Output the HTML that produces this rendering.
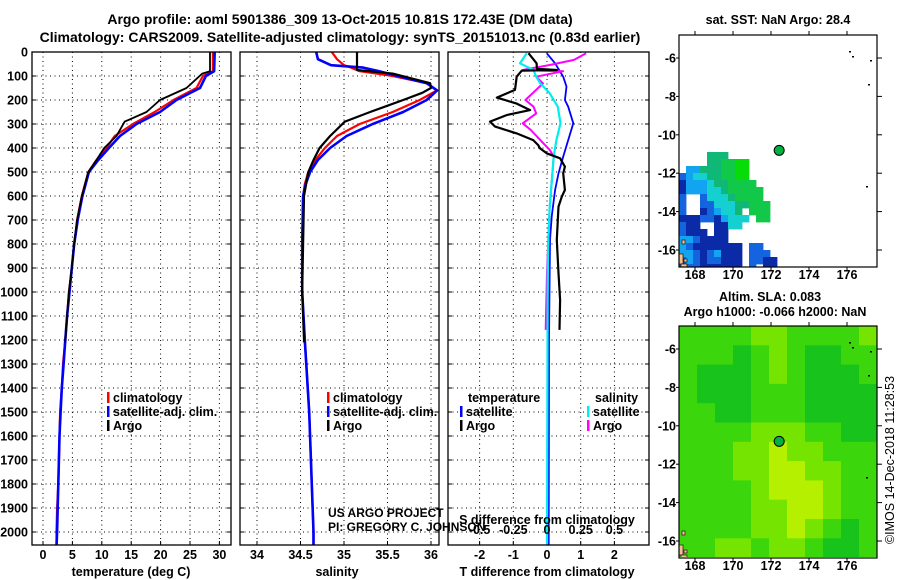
<!DOCTYPE html>
<html><head><meta charset="utf-8">
<style>
html,body{margin:0;padding:0;background:#fff;}
svg{display:block;font-family:"Liberation Sans",sans-serif;}
.b{font-weight:bold;font-size:12.5px;}
.t{font-weight:bold;font-size:14px;}
</style></head>
<body>
<svg id="fig" width="900" height="580" viewBox="0 0 900 580" xmlns="http://www.w3.org/2000/svg">
<defs>
<clipPath id="c1"><rect x="32" y="40" width="199" height="505"/></clipPath>
<clipPath id="c2"><rect x="240" y="40" width="199" height="505"/></clipPath>
<clipPath id="c3"><rect x="448" y="40" width="201" height="505"/></clipPath>
<clipPath id="cm1"><rect x="679" y="35" width="198" height="232"/></clipPath>
<clipPath id="cm2"><rect x="679" y="326" width="198" height="231"/></clipPath>
</defs>
<text class="t" x="340" y="24" text-anchor="middle">Argo profile: aoml 5901386_309 13-Oct-2015 10.81S 172.43E (DM data)</text>
<text class="t" x="340" y="42" text-anchor="middle">Climatology: CARS2009. Satellite-adjusted climatology: synTS_20151013.nc (0.83d earlier)</text>
<g id="grid"></g>
<g id="marks"></g>
<g id="frames"></g>
<g id="labels"></g>
<g id="maps"></g>
</svg>
<script>
// ---- profile data ----
const tempClimDepth=[0,80,100,150,200,250,300,350,400,450,500,600,700,800,900,1000,1100,1200,1300,1400,1500,1600,1700,1800,1900,2000,2060];
const tempClim=[28.9,28.9,27.2,26.1,22.2,19.0,15.3,12.2,10.8,9.1,7.7,6.6,5.8,5.3,4.9,4.4,4.1,3.8,3.4,3.2,2.9,2.8,2.7,2.6,2.4,2.3,2.3];
const tempSat=[29.2,29.1,27.7,26.7,22.7,19.9,15.9,13.1,11.2,9.4,7.8,6.7,5.9,5.3,4.9,4.5,4.1,3.8,3.5,3.2,3.0,2.8,2.7,2.6,2.5,2.4,2.3];
const argoDepth=[0,80,90,150,200,250,290,350,400,450,500,600,700,800,900,1000,1100,1200,1210];
const tempArgo=[28.4,28.4,27.1,24.4,19.9,17.6,13.9,12.5,10.4,9.1,7.7,6.6,5.8,5.3,4.9,4.4,4.1,3.8,3.8];
const salClimDepth=[0,30,55,65,80,100,130,160,200,250,300,350,400,450,500,550,600,800,1000,1200,1500,2000,2060];
const salClim=[34.86,34.92,35.0,35.08,35.18,35.56,35.95,36.07,35.87,35.56,35.18,34.92,34.78,34.67,34.59,34.55,34.53,34.52,34.52,34.55,34.6,34.65,34.65];
const salSat=[34.68,34.70,34.85,35.22,35.4,35.62,35.95,36.07,35.95,35.68,35.33,35.03,34.84,34.70,34.61,34.56,34.53,34.52,34.52,34.55,34.6,34.65,34.65];
const salArgoDepth=[0,75,90,130,150,170,200,250,290,350,400,450,500,600,800,1000,1200,1210];
const salArgo=[35.15,35.15,35.56,35.99,36.0,35.9,35.68,35.3,35.01,34.84,34.72,34.65,34.59,34.54,34.53,34.52,34.54,34.54];
const dTArgoDepth=[5,47,70,75,78,103,158,190,215,242,263,290,311,339,367,388,401,422,443,478,506,575,603,644,783,922,1033,1158];
const dTArgo=[-0.55,-0.31,-0.3,0.29,-0.75,-0.9,-0.95,-1.49,-0.9,-0.5,-1.2,-1.69,-1.54,-0.9,-0.41,-0.26,-0.21,-0.01,0.39,0.53,0.48,0.53,0.44,0.34,0.29,0.34,0.39,0.37];
const dTSatDepth=[5,47,103,144,200,228,297,367,436,506,575,686,783,1200,2060];
const dTSat=[-0.01,0.24,0.48,0.58,0.53,0.63,0.78,0.63,0.48,0.34,0.24,0.14,0.09,0.06,0.05];
const dSArgoDepth=[5,33,54,75,80,103,131,158,200,228,256,297,325,367,408,436,506,644,783,922,1158];
const dSArgo=[0.29,0.2,0.02,-0.18,0.12,-0.08,-0.03,-0.08,-0.16,-0.1,-0.08,-0.18,-0.12,-0.05,0.02,0.05,0.04,0.02,0.01,0.0,-0.01];
const dSSatDepth=[5,47,75,103,131,172,228,297,367,436,506,644,783,922,2060];
const dSSat=[-0.15,-0.2,-0.1,-0.08,-0.05,0.02,0.08,0.1,0.07,0.05,0.04,0.02,0.01,0.005,0.0];
const depthTicks=[0,100,200,300,400,500,600,700,800,900,1000,1100,1200,1300,1400,1500,1600,1700,1800,1900,2000];
const tempTicks=[0,5,10,15,20,25,30];
const salTicks=[34,34.5,35,35.5,36];
const salTickLabels=["34","34.5","35","35.5","36"];
const dTTicks=[-2,-1,0,1,2];
const dSTicks=[-0.5,-0.25,0,0.25,0.5];
const dSTickLabels=["-0.5","-0.25","0","0.25","0.5"];
// ---- map data ----
const lonTicks=[168,170,172,174,176];
const latTicks=[-6,-8,-10,-12,-14,-16];
const argoLon=172.43, argoLat=-10.81;
const sstGrid=[
[-1,-1,-1,-1,4,4,4,-1,-1,-1],
[-1,-1,-1,-1,4,4,5,5,6,6],
[-1,2,2,4,4,4,5,5,6,6],
[1,2,3,3,4,4,5,5,6,6],
[0,2,2,2,3,4,4,5,5,5,5],
[0,2,2,2,3,3,4,5,5,5,5,5],
[1,-1,-1,1,3,3,3,4,5,5,5,5],
[1,-1,-1,1,1,3,3,3,4,4,5,5,5],
[1,-1,-1,0,1,2,3,3,4,-1,5,5,5],
[0,0,0,1,1,0,2,3,3,3,-1,5,5],
[1,0,0,-1,-1,0,0,3,3],
[1,0,0,0,-1,0,0],
[2,2,1,0,0,0,0],
[2,1,0,0,0,0,0,0,0,-1,1,1],
[2,2,1,0,1,2,0,0,0,-1,1,1,1],
[1,2,1,0,1,1,0,0,0,-1,1,1,0,0],
[1,1,1,0,0,0,0,0,0,-1,1,-1,0,0]];
const sstColors=["#0a2aa8","#1464e0","#12a4f0","#14d0d0","#10b878","#12c848","#08dc08"];
const slaGrid=[
[1,1,1,1,2,2,1,1,1,1,2],
[1,1,1,0,1,2,1,0,0,1,1],
[1,0,0,0,1,2,1,0,0,0,1],
[1,0,0,0,1,1,1,0,0,0,0],
[1,1,0,0,1,1,1,0,0,0,0],
[1,1,1,1,2,2,2,1,1,0,0],
[1,1,1,2,2,3,2,2,1,1,1],
[1,1,1,2,2,3,3,2,2,1,1],
[1,1,1,1,2,3,3,3,2,1,1],
[1,1,1,1,2,2,3,3,2,1,1],
[1,1,1,1,2,2,3,2,1,0,1],
[1,1,2,2,1,2,2,1,0,0,1]];
const slaColors=["#18c41c","#3cd60c","#74e400","#b4f000"];

const NS="http://www.w3.org/2000/svg";
function el(tag,attrs,parent,txt){const e=document.createElementNS(NS,tag);for(const k in attrs)e.setAttribute(k,attrs[k]);if(txt!==undefined)e.textContent=txt;parent.appendChild(e);return e;}
const G=document.getElementById('grid'),M=document.getElementById('marks'),F=document.getElementById('frames'),L=document.getElementById('labels'),MP=document.getElementById('maps');
const yD=d=>52+0.24*d;
const xT=t=>43+5.88*t;
const xS=s=>257+87*(s-34);
const xDT=t=>547+33.7*t;
const xDS=s=>547+134.8*s;
const panels=[{x0:32,x1:231,clip:'c1',name:'temperature-panel'},{x0:240,x1:439,clip:'c2',name:'salinity-panel'},{x0:448,x1:649,clip:'c3',name:'difference-panel'}];
const TOP=52,BOT=545;
const dot={stroke:'#000','stroke-width':1,'stroke-dasharray':'1,3.5'};
panels.forEach((p,i)=>{
  depthTicks.forEach(d=>{const y=yD(d);
    const g=el('line',Object.assign({x1:p.x0,x2:p.x1,y1:y,y2:y},dot),G);
    
    
    el('line',{x1:p.x0,x2:p.x0+4,y1:y,y2:y,stroke:'#000'},G);
    el('line',{x1:p.x1-4,x2:p.x1,y1:y,y2:y,stroke:'#000'},G);
  });
  const r=el('rect',{x:p.x0,y:TOP,width:p.x1-p.x0,height:BOT-TOP,fill:'none',stroke:'#000','stroke-width':1.3},F);
  
  
});
depthTicks.forEach(d=>{const t=el('text',{x:28,y:yD(d)+4.5,'text-anchor':'end',class:'b'},L,String(d));
  
  });
function vgrid(vals,fx){vals.forEach(v=>{const x=fx(v);
  const g=el('line',Object.assign({x1:x,x2:x,y1:TOP,y2:BOT},dot),G);
  
  
  el('line',{x1:x,x2:x,y1:BOT-4,y2:BOT,stroke:'#000'},G);});}
vgrid(tempTicks,xT);vgrid(salTicks,xS);vgrid(dTTicks,xDT);
function ticklabels(vals,labs,fx,y,name){vals.forEach((v,i)=>{const t=el('text',{x:fx(v),y:y,'text-anchor':'middle',class:'b'},L,labs?labs[i]:String(v));
  
  });}
ticklabels(tempTicks,null,xT,559,'temperature-tick-label');
ticklabels(salTicks,salTickLabels,xS,559,'salinity-tick-label');
ticklabels(dTTicks,null,xDT,559,'t-difference-tick-label');
ticklabels(dSTicks,dSTickLabels,xDS,534,'s-difference-tick-label');
function series(depths,vals,fx,color,w,clip,name){
  const pts=depths.map((d,i)=>fx(vals[i]).toFixed(1)+','+yD(d).toFixed(1)).join(' ');
  const p=el('polyline',{points:pts,fill:'none',stroke:color,'stroke-width':w,'clip-path':'url(#'+clip+')','stroke-linejoin':'round'},M);
  
  
}
series(tempClimDepth,tempClim,xT,'#f00',2.2,'c1','temperature-climatology-line');
series(tempClimDepth,tempSat,xT,'#00f',2.6,'c1','temperature-satellite-line');
series(argoDepth,tempArgo,xT,'#000',1.8,'c1','temperature-argo-line');
series(salClimDepth,salClim,xS,'#f00',2.2,'c2','salinity-climatology-line');
series(salClimDepth,salSat,xS,'#00f',2.6,'c2','salinity-satellite-line');
series(salArgoDepth,salArgo,xS,'#000',2.2,'c2','salinity-argo-line');
series(dTSatDepth,dTSat,xDT,'#00f',1.8,'c3','t-difference-satellite-line');
series(dSArgoDepth,dSArgo,xDS,'#f0f',2,'c3','s-difference-argo-line');
series(dSSatDepth,dSSat,xDS,'#0ee',2.2,'c3','s-difference-satellite-line');
series(dTArgoDepth,dTArgo,xDT,'#000',2.2,'c3','t-difference-argo-line');
</script>
<script>
// labels, legends, maps
function T(x,y,s,cls,name,anchor){const t=el('text',{x:x,y:y,class:cls||'b','text-anchor':anchor||'start'},L,s);
  
  return t;}
T(131,576,'temperature (deg C)','b','temperature-axis-title','middle');
T(337,576,'salinity','b','salinity-axis-title','middle');
T(547,576,'T difference from climatology','b','t-difference-axis-title','middle');
T(547,524,'S difference from climatology','b','s-difference-axis-title','middle');
const u1=T(328,517,'US ARGO PROJECT','', 'credit-project');u1.setAttribute('style','font-size:12px');
const u2=T(328,531,'PI: GREGORY C. JOHNSON','', 'credit-pi');u2.setAttribute('style','font-size:12px');
function leg(x,y,color,txt,name){const m=el('rect',{x:x,y:y-10,width:2.5,height:11,fill:color},L);
  
  
  T(x+6,y,txt,'b',name);}
leg(107,402,'#f00','climatology','legend-climatology');
leg(107,416,'#00f','satellite-adj. clim.','legend-satellite');
leg(107,430,'#000','Argo','legend-argo');
leg(327,402,'#f00','climatology','legend-sal-climatology');
leg(327,416,'#00f','satellite-adj. clim.','legend-sal-satellite');
leg(327,430,'#000','Argo','legend-sal-argo');
T(468,402,'temperature','b','legend-temperature-heading');
leg(460,416,'#00f','satellite','legend-t-satellite');
leg(460,430,'#000','Argo','legend-t-argo');
T(595,402,'salinity','b','legend-salinity-heading');
leg(587,416,'#0ee','satellite','legend-s-satellite');
leg(587,430,'#f0f','Argo','legend-s-argo');

const mx=lon=>695+19*(lon-168);
function drawMap(top,grid,colors,cw,ch,gx,gy,clip,name){
  const my=lat=>top+23+19.2*(-6-lat);
  const g=el('g',{'clip-path':'url(#'+clip+')'},MP);
  
  
  grid.forEach((row,r)=>row.forEach((v,c)=>{if(v<0)return;
    const cell=el('rect',{x:gx+c*cw,y:gy+r*ch,width:cw+0.4,height:ch+0.4,fill:colors[v]},g);
    
    }));
  [[679,top+219,4,10],[682,top+205,3,4],[684,top+224,3,3],[681,top+229,6,4],[679,top+245,3,8],[683,top+249,6,5],[680,top+254,10,12],[695,top+243,3,10],[693,top+259,5,6]].forEach(b=>{
    const l=el('rect',{x:b[0],y:b[1],width:b[2],height:b[3],fill:'#f0c090',stroke:'#000','stroke-width':0.6},g);
    
    });
  const fr=el('rect',{x:679,y:top,width:198,height:232,fill:'none',stroke:'#000','stroke-width':1.2},MP);
  
  
  lonTicks.forEach(lo=>{el('line',{x1:mx(lo),x2:mx(lo),y1:top+232,y2:top+236,stroke:'#000'},MP);
    el('line',{x1:mx(lo),x2:mx(lo),y1:top,y2:top-4,stroke:'#000'},MP);
    T(mx(lo),top+244,String(lo),'b',name+'-lon-label','middle');});
  latTicks.forEach(la=>{el('line',{x1:877,x2:882,y1:my(la),y2:my(la),stroke:'#000'},MP);
    el('line',{x1:676,x2:679,y1:my(la),y2:my(la),stroke:'#000'},MP);
    T(676,my(la)+4.5,String(la),'b',name+'-lat-label','end');});
  const c=el('circle',{cx:mx(argoLon),cy:my(argoLat),r:5,fill:'#00b040',stroke:'#000','stroke-width':1},MP);
  
  
  [[849,top+16],[852,top+21],[870,top+25],[868,top+49],[866,top+151]].forEach(p=>el('rect',{x:p[0],y:p[1],width:2,height:1.5,fill:'#000'},MP));
}
drawMap(35,sstGrid,sstColors,7,7,679,152,'cm1','sst-map');
drawMap(326,slaGrid,slaColors,18,19.3,679,326,'cm2','sla-map');
T(778,24,'sat. SST: NaN Argo: 28.4','b','sst-map-title','middle');
T(770,301,'Altim. SLA: 0.083','b','sla-map-title','middle');
T(775,316,'Argo h1000: -0.066 h2000: NaN','b','sla-map-subtitle','middle');
const cr=el('text',{x:0,y:0,transform:'translate(894,460) rotate(-90)','text-anchor':'middle',style:'font-size:12.5px'},L,'©IMOS 14-Dec-2018 11:28:53');


</script>
</body></html>
